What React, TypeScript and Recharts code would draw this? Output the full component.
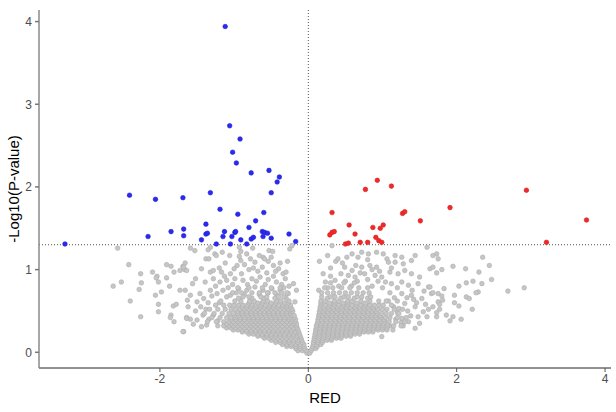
import { ScatterChart, Scatter, XAxis, YAxis, ReferenceLine } from "recharts"

// [log2FC, -log10(p)]
const downRegulated: [number, number][] = [
  [-1.12, 3.94], [-1.06, 2.74], [-0.92, 2.58], [-1.02, 2.42], [-0.97, 2.29], [-0.77, 2.17],
  [-0.53, 2.2], [-0.39, 2.12], [-0.42, 2.06], [-0.5, 1.93], [-1.32, 1.93], [-1.69, 1.87],
  [-2.06, 1.85], [-2.41, 1.9], [-1.19, 1.73], [-0.95, 1.67], [-0.6, 1.69], [-0.71, 1.59],
  [-1.38, 1.55], [-0.8, 1.51], [-1.85, 1.46], [-1.68, 1.49], [-1.68, 1.41], [-2.16, 1.4],
  [-3.28, 1.31], [-1.38, 1.43], [-1.36, 1.44], [-1.13, 1.46], [-0.99, 1.45], [-0.98, 1.46],
  [-1.15, 1.4], [-1.03, 1.4], [-1.44, 1.36], [-1.24, 1.31], [-1.05, 1.31], [-0.91, 1.36],
  [-0.83, 1.31], [-0.77, 1.37], [-0.74, 1.39], [-0.62, 1.46], [-0.59, 1.45], [-0.55, 1.44],
  [-0.61, 1.4], [-0.5, 1.38], [-0.26, 1.43], [-0.17, 1.34],
]

const upRegulated: [number, number][] = [
  [0.93, 2.08], [0.77, 1.97], [1.12, 2.01], [2.94, 1.96], [0.32, 1.69], [1.27, 1.68],
  [1.3, 1.7], [1.91, 1.75], [3.75, 1.6], [1.51, 1.59], [0.55, 1.54], [1.01, 1.54],
  [0.87, 1.51], [0.97, 1.5], [0.63, 1.43], [0.29, 1.42], [0.32, 1.45], [0.35, 1.46],
  [0.91, 1.39], [0.95, 1.35], [0.99, 1.33], [0.7, 1.33], [0.8, 1.33], [0.5, 1.31],
  [0.54, 1.32], [3.21, 1.33],
]

// not significant, the loose points around the core
const grayScattered: [number, number][] = [
  [-2.57, 1.26], [-2.42, 1.06], [-2.63, 0.8], [-2.52, 0.85], [-2.4, 0.62], [-2.26, 0.95],
  [-2.25, 0.84], [-2.28, 0.76], [-2.26, 0.43], [-2.1, 0.97], [-2.04, 0.92], [-2.05, 0.9],
  [-2.02, 0.85], [-2.06, 0.69], [-1.98, 0.73], [-2.02, 0.58], [-2.02, 0.49], [-1.91, 1.06],
  [-1.85, 1.04], [-1.81, 0.97], [-1.73, 0.99], [-1.69, 1.04], [-1.67, 1.0], [-1.91, 0.9],
  [-1.87, 0.8], [-1.73, 0.75], [-1.82, 0.56], [-1.78, 0.58], [-1.85, 0.45], [-1.86, 0.42],
  [-1.81, 0.37], [-1.68, 0.25], [-1.59, 0.4], [-1.64, 0.42],
  [-1.59, 1.26], [-1.53, 1.23], [-1.32, 1.27], [-1.35, 1.24], [-1.26, 1.19], [-1.16, 1.21],
  [-0.93, 1.27], [-0.91, 1.22], [-1.38, 1.13], [-1.34, 1.13], [-0.75, 1.26], [-0.53, 1.23],
  [-0.48, 1.22], [-0.25, 1.25], [-0.22, 1.29], [-0.61, 1.15], [-0.54, 1.1],
  [-1.24, 1.17], [-1.06, 1.17], [-0.93, 1.16], [-0.66, 1.17], [-0.59, 1.13], [-0.91, 1.11],
  [-0.78, 1.13], [-1.66, 1.08], [-1.68, 1.03], [-1.64, 0.99], [-1.12, 1.08], [-0.96, 1.05],
  [-0.86, 1.06], [-0.72, 1.09], [-0.47, 1.05], [-0.4, 1.01], [-0.34, 0.95], [-1.44, 1.01],
  [-1.32, 0.97], [-1.28, 0.99], [-1.17, 0.97], [-1.05, 0.95], [-1.52, 0.89], [-1.56, 0.83],
  [-1.39, 0.85], [-1.28, 0.89], [-1.19, 0.85], [-1.1, 0.87], [-0.99, 0.89], [-0.88, 0.87],
  [-0.76, 0.89], [-0.65, 0.91], [-0.54, 0.88], [-0.43, 0.85], [-0.31, 0.89], [-0.2, 0.83],
  [-1.66, 0.75], [-1.59, 0.69], [-1.63, 0.63], [-1.62, 0.55], [-1.5, 0.61], [-1.41, 0.65],
  [-1.46, 0.71], [-1.32, 0.75], [-1.23, 0.71], [-1.15, 0.75], [-1.05, 0.69], [-0.94, 0.77],
  [-0.83, 0.75], [-0.72, 0.79], [-0.61, 0.75], [-0.49, 0.77], [-0.38, 0.75], [-0.27, 0.71],
  [-0.16, 0.75], [-0.18, 0.61], [-1.64, 0.41], [-1.69, 0.25], [-1.44, 0.31], [-1.37, 0.33],
  [-1.5, 0.39], [-1.52, 0.5], [-1.45, 0.55], [-1.55, 0.34], [-1.35, 0.6], [-1.28, 0.45],
  [-1.25, 0.8], [-1.13, 0.92], [-1.02, 0.82], [-0.9, 0.95], [-0.82, 0.82], [-0.7, 0.86],
  [-0.58, 0.82], [-0.47, 0.92], [-0.36, 0.82], [-0.26, 0.8], [-0.3, 0.97], [-0.44, 0.98],
  [-0.56, 0.96], [-0.68, 0.98], [-0.8, 1.0], [-1.0, 1.01], [-1.2, 1.02], [-1.08, 0.78],
  [-0.97, 0.72], [-0.86, 0.7], [-0.66, 0.7], [-0.54, 0.72], [-0.42, 0.69], [-0.33, 0.78],
  [-1.3, 0.68], [-1.2, 0.6], [-1.38, 0.52], [-1.34, 0.4], [-1.42, 0.45], [-1.22, 0.38],
  [-0.62, 1.03], [-0.74, 1.02], [-0.38, 1.08], [-0.28, 1.1], [-0.83, 1.19], [-0.5, 1.15],
  [0.32, 1.29], [0.15, 1.1], [0.37, 1.1], [0.4, 1.13], [0.59, 1.19], [0.67, 1.15],
  [0.72, 1.21], [0.81, 1.19], [0.92, 1.21], [1.01, 1.19], [1.06, 1.13], [1.17, 1.17],
  [1.26, 1.15], [1.44, 1.17], [1.6, 1.27], [0.2, 0.95], [0.49, 1.03], [0.59, 0.99],
  [0.72, 1.03], [0.83, 1.05], [0.92, 1.03], [1.08, 1.09], [1.17, 1.09], [1.28, 1.07],
  [1.39, 1.11], [0.23, 0.85], [0.36, 0.87], [0.54, 0.93], [0.63, 0.91], [0.76, 0.95],
  [0.9, 0.93], [0.99, 0.91], [1.1, 0.97], [1.21, 0.95], [1.3, 0.99], [1.39, 0.95],
  [1.5, 0.91], [1.64, 1.01], [0.14, 0.75], [1.12, 0.83], [1.26, 0.85], [1.35, 0.81],
  [1.48, 0.83], [1.62, 0.79], [1.26, 0.71], [1.39, 0.69], [1.53, 0.65], [1.66, 0.71],
  [1.3, 0.59], [1.44, 0.55], [1.55, 0.49], [1.48, 0.43], [1.6, 0.43], [1.26, 0.41],
  [1.35, 0.37], [1.44, 0.29], [0.99, 0.19], [1.2, 0.62], [1.34, 0.5], [1.42, 0.64],
  [1.58, 0.58], [1.5, 0.35], [1.62, 0.52], [1.2, 0.48], [1.28, 0.32], [1.56, 0.74],
  [1.38, 0.44],
  [0.26, 0.78], [0.3, 0.92], [0.41, 0.8], [0.44, 0.95], [0.5, 0.86], [0.58, 0.8],
  [0.66, 0.86], [0.7, 0.96], [0.8, 0.88], [0.86, 0.8], [0.94, 0.86], [1.04, 0.85],
  [1.0, 0.78], [1.1, 0.72], [1.16, 0.66], [1.08, 0.62], [1.15, 0.55], [1.22, 0.53],
  [1.18, 0.4], [1.25, 0.36], [1.1, 0.32], [0.86, 1.0], [0.64, 1.05], [0.46, 1.08],
  [0.3, 1.02], [0.26, 1.17], [0.52, 1.15], [0.8, 1.12], [1.12, 1.02], [1.2, 0.78],
  [0.96, 0.98], [1.33, 0.66], [1.4, 0.75], [1.46, 0.6],
  [2.35, 1.15], [2.44, 1.05], [2.3, 0.97], [2.47, 0.88], [2.12, 1.01], [1.95, 1.04],
  [1.73, 1.19], [1.68, 1.17], [1.75, 1.13], [1.68, 1.03], [1.8, 1.0], [1.73, 0.96],
  [2.13, 0.84], [2.22, 0.86], [2.34, 0.83], [2.03, 0.8], [1.83, 0.77], [2.29, 0.73],
  [2.26, 0.72], [2.69, 0.74], [2.91, 0.78], [1.97, 0.69], [2.13, 0.67], [2.17, 0.65],
  [1.97, 0.6], [2.03, 0.56], [2.21, 0.52], [1.86, 0.45], [1.95, 0.43], [1.91, 0.38],
  [2.06, 0.4], [1.68, 0.72], [1.75, 0.71], [1.8, 0.68], [1.75, 0.61], [1.81, 0.63],
  [1.77, 0.58], [1.68, 0.55], [1.77, 0.52], [1.73, 0.48], [1.73, 0.43], [1.64, 0.79],
]

// the dense V-shaped core, one row per -log10(p) level: [y, x values]
const grayCoreRows: [number, number[]][] = [
  [-0.01, [-0.02, 0.02]],
  [0.02, [-0.14, -0.08, -0.03, 0.04]],
  [0.045, [-0.17, -0.11, -0.05, 0.05, 0.1]],
  [0.07, [-0.29, -0.23, -0.17, -0.11, -0.06, 0.06, 0.12]],
  [0.095, [-0.35, -0.29, -0.23, -0.17, -0.11, -0.06, 0.07, 0.12, 0.17]],
  [0.12, [-0.44, -0.38, -0.32, -0.26, -0.2, -0.14, -0.08, 0.07, 0.13, 0.19]],
  [0.145, [-0.5, -0.44, -0.38, -0.32, -0.26, -0.2, -0.14, -0.09, 0.08, 0.13, 0.19, 0.25, 0.31]],
  [0.17, [-0.59, -0.53, -0.47, -0.41, -0.35, -0.29, -0.23, -0.17, -0.1,
    0.08, 0.14, 0.2, 0.26, 0.32, 0.38, 0.44]],
  [0.195, [-0.68, -0.62, -0.56, -0.5, -0.44, -0.38, -0.32, -0.26, -0.2, -0.15, -0.11,
    0.09, 0.15, 0.21, 0.27, 0.33, 0.39, 0.45, 0.51, 0.57]],
  [0.22, [-0.8, -0.74, -0.68, -0.62, -0.56, -0.5, -0.44, -0.38, -0.32, -0.26, -0.2, -0.12,
    0.09, 0.15, 0.21, 0.27, 0.33, 0.39, 0.45, 0.51, 0.57, 0.63, 0.69]],
  [0.245, [-0.89, -0.83, -0.77, -0.71, -0.65, -0.59, -0.53, -0.47, -0.41, -0.35, -0.29, -0.23,
    -0.17, -0.13, 0.1, 0.15, 0.21, 0.27, 0.33, 0.39, 0.45, 0.51, 0.57, 0.63, 0.69, 0.75, 0.81, 0.87]],
  [0.27, [-1.01, -0.95, -0.89, -0.83, -0.77, -0.71, -0.65, -0.59, -0.53, -0.47, -0.41, -0.35,
    -0.29, -0.23, -0.14,
    0.1, 0.16, 0.22, 0.28, 0.34, 0.4, 0.46, 0.52, 0.58, 0.64, 0.7, 0.76, 0.82, 0.88, 0.94,
    1.0, 1.06, 1.14]],
  [0.295, [-1.1, -1.04, -0.98, -0.92, -0.86, -0.8, -0.74, -0.68, -0.62, -0.56, -0.5, -0.44,
    -0.38, -0.32, -0.26, -0.2, -0.15, 0.11, 0.16, 0.22, 0.28, 0.34, 0.4, 0.46, 0.52, 0.58,
    0.64, 0.7, 0.76, 0.82, 0.88, 0.94, 1.0, 1.06]],
  [0.32, [-1.22, -1.14, -1.07, -1.01, -0.95, -0.89, -0.83, -0.77, -0.71, -0.65, -0.59, -0.53,
    -0.47, -0.41, -0.35, -0.29, -0.23, -0.16,
    0.11, 0.17, 0.23, 0.29, 0.35, 0.41, 0.47, 0.53, 0.59, 0.65, 0.71, 0.77, 0.83, 0.89, 0.95,
    1.01, 1.07, 1.15, 1.25]],
  [0.345, [-1.1, -1.04, -0.98, -0.92, -0.86, -0.8, -0.74, -0.68, -0.62, -0.56, -0.5, -0.44,
    -0.38, -0.32, -0.26, -0.2, -0.16, 0.12, 0.17, 0.23, 0.29, 0.35, 0.41, 0.47, 0.53, 0.59,
    0.65, 0.71, 0.77, 0.83, 0.89, 0.95, 1.01, 1.07]],
  [0.37, [-1.36, -1.24, -1.14, -1.07, -1.01, -0.95, -0.89, -0.83, -0.77, -0.71, -0.65, -0.59,
    -0.53, -0.47, -0.41, -0.35, -0.29, -0.23, -0.18,
    0.13, 0.19, 0.25, 0.31, 0.37, 0.43, 0.49, 0.55, 0.61, 0.67, 0.73, 0.79, 0.85, 0.91, 0.97,
    1.03, 1.09, 1.18, 1.3]],
  [0.395, [-1.04, -0.98, -0.92, -0.86, -0.8, -0.74, -0.68, -0.62, -0.56, -0.5, -0.44, -0.38,
    -0.32, -0.26, -0.21, -0.17, 0.13, 0.18, 0.24, 0.3, 0.36, 0.42, 0.48, 0.54, 0.6, 0.66,
    0.72, 0.78, 0.84, 0.9, 0.96, 1.02]],
  [0.42, [-1.3, -1.19, -1.1, -1.04, -0.98, -0.92, -0.86, -0.8, -0.74, -0.68, -0.62, -0.56,
    -0.5, -0.44, -0.38, -0.32, -0.26, -0.19,
    0.14, 0.2, 0.26, 0.32, 0.38, 0.44, 0.5, 0.56, 0.62, 0.68, 0.74, 0.8, 0.86, 0.92, 0.98,
    1.04, 1.1, 1.2, 1.32]],
  [0.445, [-1.0, -0.94, -0.88, -0.82, -0.76, -0.7, -0.64, -0.58, -0.52, -0.46, -0.4, -0.34,
    -0.28, -0.23, -0.19, 0.14, 0.19, 0.25, 0.31, 0.37, 0.43, 0.49, 0.55, 0.61, 0.67, 0.73,
    0.79, 0.85, 0.91, 0.97]],
  [0.47, [-1.4, -1.27, -1.16, -1.07, -1.01, -0.95, -0.89, -0.83, -0.77, -0.71, -0.65, -0.59,
    -0.53, -0.47, -0.41, -0.35, -0.29, -0.24,
    0.15, 0.21, 0.27, 0.33, 0.39, 0.45, 0.51, 0.57, 0.63, 0.69, 0.75, 0.81, 0.87, 0.93, 0.99,
    1.05, 1.12, 1.22]],
  [0.495, [-0.95, -0.89, -0.83, -0.77, -0.71, -0.65, -0.59, -0.53, -0.47, -0.41, -0.35, -0.29,
    -0.24, -0.21, 0.15, 0.2, 0.26, 0.32, 0.38, 0.44, 0.5, 0.56, 0.62, 0.68, 0.74, 0.8, 0.86, 0.92]],
  [0.52, [-1.33, -1.22, -1.12, -1.04, -0.98, -0.92, -0.86, -0.8, -0.74, -0.68, -0.62, -0.56,
    -0.5, -0.44, -0.38, -0.32, -0.27, -0.22,
    0.16, 0.22, 0.28, 0.34, 0.4, 0.46, 0.52, 0.58, 0.64, 0.7, 0.76, 0.82, 0.88, 0.94, 1.0,
    1.06, 1.16, 1.27]],
  [0.545, [-0.89, -0.83, -0.77, -0.71, -0.65, -0.59, -0.53, -0.47, -0.41, -0.35, -0.29, -0.24,
    0.16, 0.21, 0.27, 0.33, 0.39, 0.45, 0.51, 0.57, 0.63, 0.69, 0.75, 0.81, 0.87]],
  [0.57, [-1.25, -1.14, -1.06, -1.0, -0.94, -0.88, -0.82, -0.76, -0.7, -0.64, -0.58, -0.52,
    -0.46, -0.4, -0.34, -0.29, -0.24,
    0.17, 0.23, 0.29, 0.35, 0.41, 0.47, 0.53, 0.59, 0.65, 0.71, 0.77, 0.83, 0.89, 0.95, 1.01,
    1.12]],
  [0.595, [-0.8, -0.68, -0.62, -0.5, -0.44, -0.32, -0.27,
    0.17, 0.29, 0.35, 0.47, 0.53, 0.65, 0.77]],
  [0.62, [-1.18, -0.99, -0.91, -0.79, -0.73, -0.61, -0.55, -0.43, -0.37, -0.26,
    0.17, 0.23, 0.35, 0.41, 0.53, 0.59, 0.71, 0.83, 0.95, 1.05]],
  [0.655, [-0.94, -0.76, -0.6, -0.45, -0.3, 0.26, 0.44, 0.62, 0.8]],
  [0.67, [-1.1, -0.88, -0.8, -0.64, -0.56, -0.4, -0.33,
    0.18, 0.3, 0.36, 0.48, 0.54, 0.66, 0.72, 0.84]],
  [0.72, [-1.02, -0.9, -0.76, -0.66, -0.55, -0.45, -0.36, -0.29,
    0.18, 0.26, 0.34, 0.42, 0.5, 0.58, 0.66, 0.74, 0.82]],
  [0.78, [-0.95, -0.8, -0.62, -0.5, -0.38, 0.22, 0.33, 0.45, 0.56, 0.68, 0.8]],
  [0.84, [0.3, 0.48, 0.62]],
]

const xTicks = [-2, 0, 2, 4]
const yTicks = [0, 1, 2, 3, 4]
const pCutoff = 1.301 // -log10(0.05)

const toPoints = (pts: [number, number][]) => pts.map(([x, y]) => ({ x, y }))

const grayData = [
  ...toPoints(grayScattered),
  ...grayCoreRows.flatMap(([y, xs]) => xs.map((x) => ({ x, y }))),
]

const dot = (fill: string, stroke: string) => (props: any) => (
  <circle cx={props.cx} cy={props.cy} r={2.3} fill={fill} stroke={stroke} strokeWidth={0.6} />
)

export default function App() {
  return (
    <div style={{ position: "absolute", left: 0, top: 0, background: "#fff" }}>
      <ScatterChart
        width={616}
        height={412}
        margin={{ top: 10, right: 5, bottom: 0, left: 0 }}
        style={{ fontFamily: '"Liberation Sans", Arial, sans-serif' }}
      >
        <XAxis
          type="number"
          dataKey="x"
          domain={[-3.63, 4.08]}
          ticks={xTicks}
          allowDataOverflow
          height={44}
          stroke="#222"
          tickSize={4}
          tickMargin={2}
          tick={{ fill: "#4d4d4d", fontSize: 12 }}
          tickLine={{ stroke: "#555" }}
          label={{ value: "RED", position: "insideBottom", offset: 9, fill: "#000", fontSize: 15 }}
        />
        <YAxis
          type="number"
          dataKey="y"
          domain={[-0.19, 4.14]}
          ticks={yTicks}
          allowDataOverflow
          width={39}
          stroke="#8a8a8a"
          strokeWidth={1.5}
          tickSize={4}
          tickMargin={3}
          tick={{ fill: "#4d4d4d", fontSize: 12 }}
          tickLine={{ stroke: "#777" }}
          label={{
            value: "-Log10(P-value)",
            angle: -90,
            position: "insideLeft",
            offset: 14,
            fill: "#000",
            fontSize: 15,
            style: { textAnchor: "middle" },
          }}
        />
        <Scatter data={grayData} isAnimationActive={false} shape={dot("#c6c6c6", "#acacac")} />
        <ReferenceLine y={pCutoff} stroke="#555" strokeDasharray="1 2" />
        <ReferenceLine x={0} stroke="#555" strokeDasharray="1 2" />
        <Scatter data={toPoints(downRegulated)} isAnimationActive={false} shape={dot("#2a2af2", "#1c1cd8")} />
        <Scatter data={toPoints(upRegulated)} isAnimationActive={false} shape={dot("#f02a2a", "#d81c1c")} />
      </ScatterChart>
    </div>
  )
}
